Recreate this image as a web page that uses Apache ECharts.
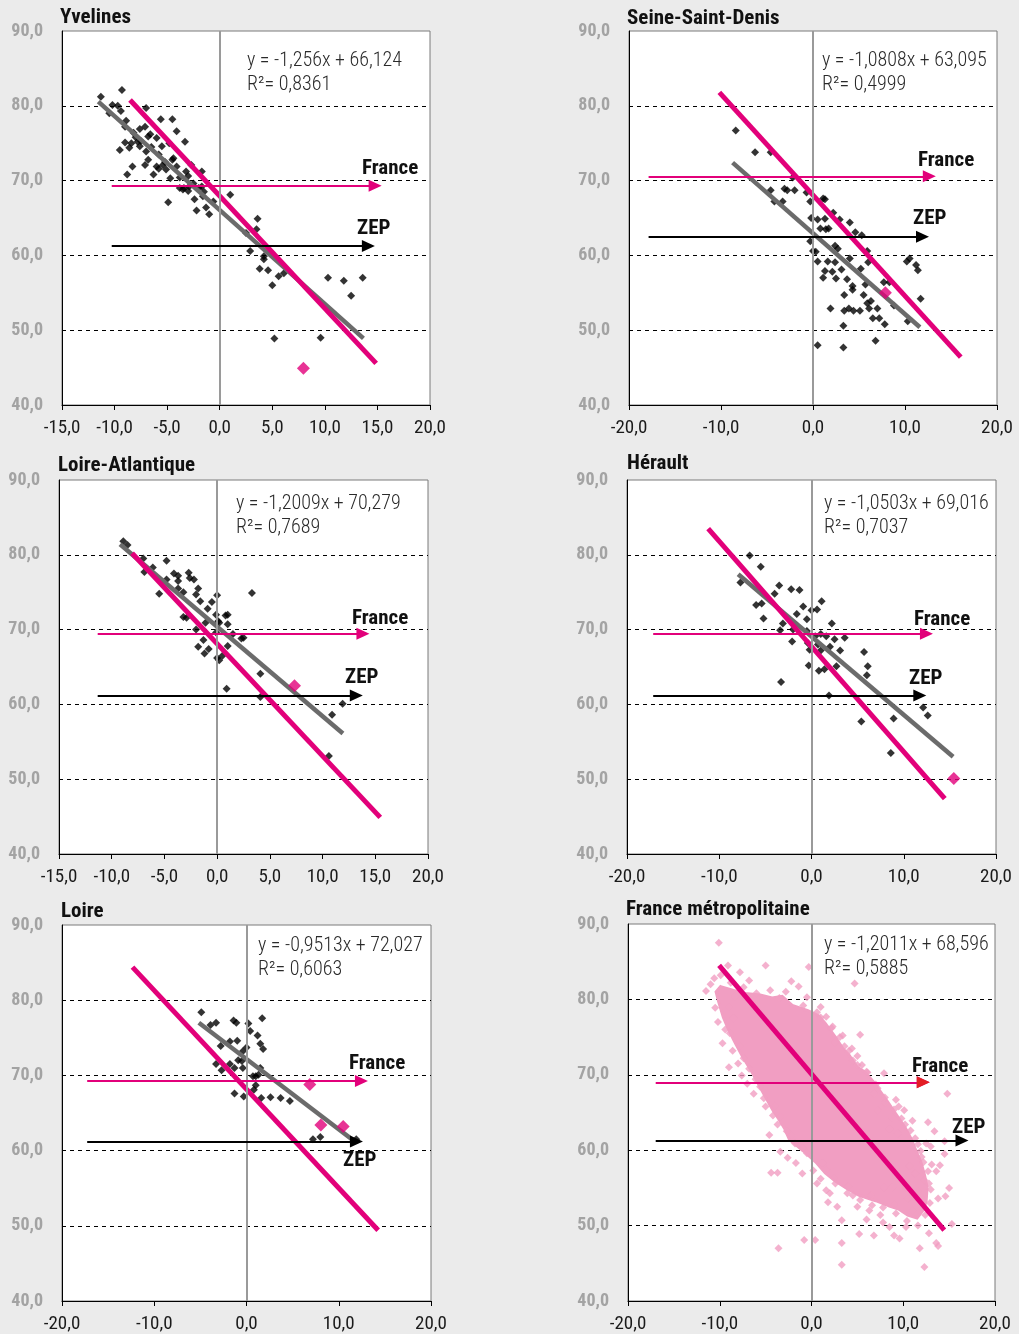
<!DOCTYPE html>
<html><head><meta charset="utf-8">
<script src="https://cdn.jsdelivr.net/npm/echarts@6/dist/echarts.min.js"></script>
<style>html,body{margin:0;padding:0;background:#ebebeb}#c{width:1019px;height:1334px}</style>
</head><body><div id="c"></div>
<script>
// ---------------- DATA ----------------
const titles = ['Yvelines','Seine-Saint-Denis','Loire-Atlantique','Hérault','Loire','France métropolitaine'];
const equations = ['y = -1,256x + 66,124','y = -1,0808x + 63,095','y = -1,2009x + 70,279','y = -1,0503x + 69,016','y = -0,9513x + 72,027','y = -1,2011x + 68,596'];
const r2Values = ['R²= 0,8361','R²= 0,4999','R²= 0,7689','R²= 0,7037','R²= 0,6063','R²= 0,5885'];
const xMins = [-15,-20,-15,-20,-20,-20];
const xIntervals = [5,10,5,10,10,10];
const yTicks = [40,50,60,70,80,90];

const ptsYvelines = [[-11.3,81.2],[-10.5,79.0],[-9.3,82.1],[-9.7,80.0],[-9.4,79.3],[-8.9,78.0],[-9.0,75.1],[-9.5,74.1],[-8.8,70.8],[-8.3,71.9],[-8.4,75.0],[-7.6,74.6],[-7.0,79.7],[-7.6,76.9],[-7.1,77.2],[-6.8,75.9],[-7.0,73.9],[-7.1,72.1],[-6.8,72.8],[-6.3,70.8],[-6.0,75.7],[-5.6,78.2],[-4.5,78.2],[-4.1,76.6],[-3.3,75.2],[-5.5,74.6],[-4.8,75.0],[-6.0,71.9],[-5.4,72.1],[-5.1,71.5],[-4.9,67.1],[-4.7,70.3],[-4.4,73.0],[-4.1,71.9],[-3.8,70.4],[-3.8,69.0],[-3.5,68.8],[-3.2,71.2],[-2.7,72.1],[-2.9,69.2],[-2.4,67.5],[-2.2,66.0],[-1.7,71.2],[-1.7,69.2],[-1.6,67.9],[-1.3,66.4],[-1.0,65.5],[-0.6,67.2],[1.0,68.1],[2.5,63.0],[2.9,60.6],[3.6,64.9],[3.5,63.5],[4.2,59.9],[4.2,59.5],[3.8,58.2],[4.6,58.0],[5.6,57.2],[6.1,57.6],[5.0,56.0],[5.2,48.9],[9.6,49.0],[10.3,57.0],[11.8,56.6],[12.5,54.6],[13.6,57.0],[-7.5,75.3],[-6.5,74.5],[-5.8,73.5],[-5.2,72.5],[-4.5,72.8],[-3.0,70.6],[-2.5,69.6],[-2.0,69.0],[-1.5,68.5],[-8.2,76.4],[-9.0,77.2],[-8.0,75.8],[-6.6,76.2],[-10.2,80.1],[-3.4,69.0],[-3.0,68.6],[-5.8,71.6],[-8.6,74.4],[-7.8,75.2]];
const ptsSeineSaintDenis = [[-8.4,76.7],[-6.3,73.8],[-4.6,73.8],[-4.6,68.7],[-4.2,67.2],[-3.3,67.2],[-3.1,68.9],[-2.8,68.7],[-2.0,68.7],[-2.2,70.4],[-0.7,68.4],[-0.3,67.2],[1.1,67.6],[1.3,67.5],[-0.2,65.0],[0.5,64.8],[1.3,64.9],[0.8,63.6],[1.4,63.5],[1.7,63.6],[2.2,65.7],[2.9,64.8],[4.0,64.4],[4.6,63.1],[5.3,62.7],[-0.3,61.9],[0.0,60.6],[0.3,60.5],[0.5,59.2],[1.6,59.2],[2.4,61.3],[2.7,60.9],[2.4,59.1],[1.3,57.9],[2.1,57.8],[1.1,57.0],[2.5,56.9],[3.1,58.1],[4.0,59.6],[3.7,56.8],[4.3,55.9],[4.3,55.4],[3.4,54.7],[5.2,58.2],[5.9,60.6],[6.0,59.1],[5.7,56.1],[5.5,54.7],[5.9,53.6],[6.3,53.9],[7.0,52.9],[6.1,52.9],[6.5,51.6],[7.2,51.6],[7.8,50.8],[7.7,56.4],[8.3,56.4],[8.8,53.3],[1.9,52.9],[3.4,52.6],[3.9,52.9],[4.4,52.6],[5.1,52.6],[3.3,50.6],[0.5,48.0],[3.3,47.7],[6.8,48.6],[10.2,59.2],[10.5,59.6],[11.2,58.7],[11.4,58.0],[11.7,54.2],[10.3,51.2]];
const ptsLoireAtlantique = [[-8.9,81.8],[-8.5,81.3],[-7.0,79.5],[-6.9,77.7],[-6.1,78.3],[-5.5,74.8],[-4.8,79.2],[-4.8,76.7],[-4.1,77.5],[-3.7,77.2],[-3.7,76.5],[-3.7,75.5],[-3.2,75.0],[-3.2,71.7],[-2.9,71.6],[-2.7,77.6],[-2.6,76.9],[-2.2,76.7],[-2.0,74.7],[-1.8,75.5],[-1.6,73.8],[-2.0,70.0],[-1.8,67.7],[-1.3,68.6],[-1.2,66.8],[-1.1,70.9],[-0.9,72.8],[-0.8,67.4],[-0.5,73.7],[0.0,74.6],[-0.1,72.0],[0.1,71.1],[0.2,70.9],[-0.1,69.6],[0.0,66.2],[0.2,65.9],[0.5,66.5],[0.8,71.9],[1.0,72.0],[1.0,70.7],[1.0,67.8],[0.9,62.1],[1.5,69.4],[2.3,68.8],[2.5,68.9],[3.3,74.9],[4.1,64.1],[4.1,61.0],[10.9,58.6],[11.9,60.1],[10.6,53.1]];
const ptsHerault = [[-6.7,79.9],[-5.5,78.4],[-7.7,76.3],[-6.0,73.3],[-5.4,73.5],[-5.2,71.5],[-4.0,74.8],[-3.5,75.9],[-3.4,69.9],[-3.1,70.8],[-3.3,63.0],[-2.2,75.4],[-1.3,75.3],[-1.6,72.1],[-0.9,73.1],[-0.5,71.4],[-2.0,70.0],[-2.1,68.4],[-0.5,69.8],[0.0,72.6],[0.6,72.7],[1.1,73.8],[-0.4,68.2],[-0.2,67.3],[0.4,69.1],[0.7,68.0],[1.0,69.4],[1.0,67.2],[1.6,69.1],[2.0,67.7],[2.2,70.8],[2.5,68.7],[3.1,67.2],[3.6,68.9],[0.8,64.5],[1.4,64.7],[2.7,65.1],[-0.3,65.2],[1.9,61.2],[5.7,67.0],[6.1,65.1],[6.0,63.9],[5.4,57.7],[8.9,58.1],[8.6,53.5],[12.1,59.6],[12.6,58.5]];
const ptsLoire = [[-4.9,78.4],[-3.9,76.7],[-3.3,77.0],[-3.3,71.5],[-2.7,70.7],[-2.8,73.9],[-1.8,74.5],[-1.8,71.5],[-1.4,77.3],[-1.1,77.0],[-1.0,74.6],[-1.3,71.0],[-1.3,67.6],[-0.9,72.0],[-0.5,71.9],[-0.4,73.2],[0.0,73.7],[-0.4,71.0],[-0.3,67.2],[0.2,76.9],[0.4,75.9],[0.7,69.9],[1.0,69.9],[1.0,68.7],[0.8,68.1],[1.2,75.3],[1.5,74.2],[1.8,73.5],[1.7,77.6],[1.5,71.0],[1.3,70.1],[1.6,67.0],[2.6,67.1],[3.7,67.0],[4.7,66.6],[7.2,61.5],[8.0,61.8],[11.9,61.5]];
const ptsFranceOutliers = [[-10.1,87.5],[-9.1,84.5],[-5.0,84.5],[-0.3,84.3],[4.7,82.1],[-2.2,82.4],[-1.4,81.7],[-7.8,83.6],[-6.8,82.5],[-11.5,81.1],[-10.5,78.9],[-9.7,74.2],[-9.0,71.0],[-7.6,69.9],[-6.3,67.5],[-3.7,63.4],[-2.6,59.0],[-4.4,57.0],[-3.7,57.0],[-1.0,56.9],[-0.8,48.1],[0.4,48.1],[-3.6,47.0],[3.3,47.7],[3.3,44.8],[1.6,77.7],[3.1,75.0],[5.3,75.3],[4.1,73.2],[5.0,72.5],[6.1,70.3],[7.9,70.2],[9.2,66.7],[9.5,65.8],[14.8,67.5],[11.0,63.9],[12.7,63.7],[10.5,60.8],[12.5,60.9],[14.5,61.2],[11.9,59.9],[14.5,59.5],[13.1,58.1],[13.6,57.2],[12.3,56.0],[12.8,55.6],[14.6,53.9],[13.8,53.6],[11.9,52.9],[12.8,49.0],[13.6,47.7],[13.8,47.3],[11.8,47.0],[12.3,44.5],[15.3,50.2],[9.6,48.3],[9.0,48.7],[6.8,48.7],[5.2,48.9],[8.5,49.8],[10.3,49.8],[11.0,52.0],[7.5,51.4],[6.3,52.0],[5.0,52.5],[4.5,54.0],[3.3,50.7],[2.8,52.5],[1.8,53.1],[1.6,54.7],[0.6,55.6],[10.7,57.9],[11.3,56.9],[10.3,55.1],[8.8,55.1],[7.9,55.1],[9.4,62.2],[10.1,65.3],[8.5,62.8],[7.2,65.3],[6.8,67.5],[-8.3,80.4],[-6.0,80.8],[-3.5,80.2],[-0.9,79.2],[0.6,78.3],[2.2,76.2],[-10.2,77.0],[-9.4,76.0],[-8.6,73.2],[-8.0,71.5],[-7.0,68.8],[-5.0,65.8],[-4.2,64.6],[-2.2,61.9],[-1.0,60.3],[1.2,58.3],[2.5,56.3],[4.0,55.2],[6.5,54.0],[9.0,52.8],[10.5,53.6],[11.6,54.6],[12.2,58.4],[11.3,61.6],[10.2,63.4],[8.8,64.3],[8.0,66.3],[7.2,68.2],[6.3,69.1],[5.5,71.3],[4.5,71.9],[3.6,73.8],[2.6,74.3],[-11.0,82.0],[-10.6,82.8],[-9.9,83.2],[-8.8,82.2],[-7.4,81.6],[-4.5,81.2],[-2.8,81.0],[-0.5,80.3],[1.0,79.0],[-9.0,79.0],[-8.5,77.5],[-8.9,75.5],[-7.8,73.8],[-7.4,72.2],[-6.8,70.8],[-6.1,69.4],[-5.6,68.4],[-5.2,66.9],[-4.0,65.9],[-3.4,64.5],[-2.7,62.5],[-1.8,60.9],[-0.5,59.6],[0.6,58.7],[1.6,57.4],[2.6,55.6],[3.9,54.3],[5.3,53.4],[6.6,52.7],[7.8,52.4],[9.2,51.6],[10.4,50.6],[11.6,50.0],[12.4,51.4],[12.9,53.0],[13.0,54.8],[12.7,57.2],[12.0,59.1],[11.6,60.8],[10.8,62.6],[9.8,64.2],[9.0,65.4],[8.0,67.0],[7.0,68.7],[6.0,70.4],[5.0,71.3],[4.4,73.5],[3.4,75.2],[2.3,76.4],[1.0,77.6],[-3.4,59.8],[-4.6,62.0],[0.2,57.3],[-1.7,58.3],[2.0,54.3],[1.0,56.2],[6.0,50.8],[7.8,50.4],[13.4,62.5],[15.0,55.0],[14.0,58.0],[13.0,60.5]];
// outline of the solid dense core of the France cloud
const blobFrance = [[-9.9,81.7],[-8.5,81.2],[-7.2,80.8],[-5.6,80.6],[-4.3,80.2],[-3.2,80.4],[-2.1,79.2],[-0.4,78.5],[0.8,77.8],[1.5,76.8],[2.6,75.0],[3.4,73.5],[4.1,72.6],[5.0,71.0],[5.8,70.4],[6.8,69.0],[7.6,67.6],[8.3,66.4],[9.2,64.8],[10.2,63.0],[10.9,61.4],[11.3,60.2],[11.9,58.5],[12.3,56.8],[12.6,55.1],[12.5,53.3],[12.2,52.1],[11.5,51.0],[10.5,51.4],[9.5,52.2],[8.5,52.6],[7.0,53.3],[5.2,54.0],[3.9,54.9],[2.6,55.9],[1.5,57.0],[0.5,58.4],[-0.6,59.6],[-1.6,60.6],[-2.4,61.4],[-2.9,62.8],[-3.5,64.0],[-4.2,65.3],[-4.8,66.6],[-5.4,67.9],[-6.0,69.3],[-6.6,70.6],[-7.5,72.4],[-8.3,74.2],[-9.0,75.9],[-9.6,77.6],[-10.1,79.6],[-10.4,81.0]];

const grayLines = [[[-11.55,80.55],[13.67,48.9]],[[-8.74,72.4],[11.62,50.4]],[[-9.21,81.4],[11.93,56.1]],[[-7.95,77.4],[15.35,53.0]],[[-5.17,77.0],[11.74,61.2]],null];
const pinkLines = [[[-8.53,80.78],[14.88,45.57]],[[-10.18,81.8],[16.06,46.4]],[[-8.07,80.2],[15.47,44.9]],[[-11.2,83.5],[14.45,47.4]],[[-12.36,84.4],[14.27,49.4]],[[-10.07,84.5],[14.47,49.4]]];
// [xStart, xEnd, y]
const franceArrows = [[-10.27,14.78,69.32],[-17.87,12.64,70.58],[-11.33,13.83,69.44],[-17.16,12.46,69.44],[-17.27,12.46,69.25],[-16.98,12.18,69.0]];
const zepArrows = [[-10.27,14.14,61.26],[-17.87,11.9,62.5],[-11.33,13.2,61.2],[-17.16,11.74,61.2],[-17.27,11.92,61.2],[-16.98,16.4,61.3]];
const highlights = [[[7.96,44.9]],[[7.87,55.0]],[[7.34,62.5]],[[15.43,50.1]],[[6.86,68.8],[8.06,63.4],[10.48,63.2]],[]];
const pointSets = [ptsYvelines, ptsSeineSaintDenis, ptsLoireAtlantique, ptsHerault, ptsLoire, ptsFranceOutliers];

// ---------------- LAYOUT / STYLE ----------------
const grids = [
  {left:62, top:31, width:368, height:374},
  {left:629, top:31, width:368, height:374},
  {left:59, top:480, width:369, height:374},
  {left:627, top:480, width:369, height:374},
  {left:62, top:925, width:369, height:377},
  {left:628, top:924, width:367, height:378}
];
const titlePos = [[60,18],[627,19],[58,466],[627,464],[61,912],[626,910]];
const eqPos = [[247,61],[822,61],[236,504],[824,504],[258,946],[824,945]];
const francePos = [[362,169],[918,161],[352,619],[914,620],[349,1064],[912,1067]];
const zepPos = [[357,229],[913,219],[345,678],[909,679],[343,1161],[952,1128]];

const FONT = '"Roboto Condensed","Liberation Sans Narrow",sans-serif';
const MAG = '#e2007a', PINK = '#f19ec2', GRAY = '#6b6b6b';
const fmt = v => v.toFixed(1).replace('.', ',');

const option = {
  backgroundColor:'#ebebeb', animation:false,
  grid:[], xAxis:[], yAxis:[], series:[], graphic:[]
};

grids.forEach((g,i)=>{
  option.grid.push(Object.assign({show:true, backgroundColor:'#fff', borderColor:'#7a7a7a', borderWidth:1, containLabel:false}, g));
  option.xAxis.push({type:'value', gridIndex:i, min:xMins[i], max:20, interval:xIntervals[i],
    axisLine:{onZero:false, lineStyle:{color:'#000', width:1}},
    axisTick:{show:true, length:5, lineStyle:{color:'#000'}},
    splitLine:{show:false},
    axisLabel:{formatter:fmt, color:'#1a1a1a', fontFamily:FONT, fontSize:19, margin:14}});
  option.yAxis.push({type:'value', gridIndex:i, min:40, max:90, interval:10,
    axisLine:{show:true, onZero:false, lineStyle:{color:'#000', width:1}},
    axisTick:{show:false},
    splitLine:{show:true, lineStyle:{type:[4,4], width:1, color:['transparent','#000','#000','#000','#000','transparent']}},
    axisLabel:{formatter:fmt, color:'#a3a3a3', fontWeight:'bold', fontFamily:FONT, fontSize:18, margin:19}});

  // zero vertical line
  option.series.push({type:'line', xAxisIndex:i, yAxisIndex:i, data:[], silent:true,
    markLine:{silent:true, symbol:['none','none'], label:{show:false}, lineStyle:{color:'#9a9a9a', width:2, type:'solid'}, data:[{xAxis:0}]}});

  // dense cloud (France panel)
  if (i === 5) {
    option.series.push({type:'custom', xAxisIndex:i, yAxisIndex:i, data:[[0,0]], silent:true,
      renderItem:(params, api)=>({type:'polygon', shape:{points:blobFrance.map(p=>api.coord(p))}, style:{fill:PINK, stroke:PINK, lineWidth:3}})});
  }
  // scatter points
  option.series.push({type:'scatter', xAxisIndex:i, yAxisIndex:i, data:pointSets[i], symbol:'diamond',
    symbolSize:8, itemStyle:{color: i===5 ? PINK : '#000'}, silent:true});

  // arrows
  const fa = franceArrows[i], za = zepArrows[i];
  option.series.push({type:'line', xAxisIndex:i, yAxisIndex:i, data:[], silent:true,
    markLine:{silent:true, symbol:['none','triangle'], symbolSize:[12,13], label:{show:false},
      data:[
        [{coord:[fa[0],fa[2]], lineStyle:{color:MAG, width:2, type:'solid'}},{coord:[fa[1],fa[2]]}],
        [{coord:[za[0],za[2]], lineStyle:{color:'#000', width:2, type:'solid'}},{coord:[za[1],za[2]]}]
      ]}});
  if (i === 5) {
    option.series.push({type:'line', xAxisIndex:i, yAxisIndex:i, data:[], silent:true,
      markLine:{silent:true, symbol:['none','triangle'], symbolSize:[12,13], label:{show:false},
        data:[[{coord:[fa[1]-0.3,fa[2]], lineStyle:{color:'#e31e24', width:2, type:'solid'}},{coord:[fa[1],fa[2]]}]]}});
  }
  // regression lines
  if (grayLines[i]) option.series.push({type:'line', xAxisIndex:i, yAxisIndex:i, data:grayLines[i], symbol:'none', silent:true,
    lineStyle:{color:GRAY, width:4.5, cap:'butt'}});
  option.series.push({type:'line', xAxisIndex:i, yAxisIndex:i, data:pinkLines[i], symbol:'none', silent:true,
    lineStyle:{color:MAG, width:5, cap:'butt'}});
  // highlighted departments
  if (highlights[i].length) option.series.push({type:'scatter', xAxisIndex:i, yAxisIndex:i, data:highlights[i], symbol:'diamond',
    symbolSize:13, itemStyle:{color:MAG}, silent:true, z:5});

  // texts
  const txt = (x,y,text,font,fill)=>option.graphic.push({type:'text', x, y, silent:true, style:{text, font, fill, verticalAlign:'middle'}});
  txt(titlePos[i][0], titlePos[i][1], titles[i], 'bold 21px '+FONT, '#111');
  txt(eqPos[i][0], eqPos[i][1], equations[i], '300 20px '+FONT, '#2a2a2a');
  txt(eqPos[i][0], eqPos[i][1]+24, r2Values[i], '300 20px '+FONT, '#2a2a2a');
  txt(francePos[i][0], francePos[i][1], 'France', 'bold 21px '+FONT, '#111');
  txt(zepPos[i][0], zepPos[i][1], 'ZEP', 'bold 21px '+FONT, '#111');
});

const chart = echarts.init(document.getElementById('c'), null, {renderer:'canvas'});
chart.setOption(option);
</script>
</body></html>
